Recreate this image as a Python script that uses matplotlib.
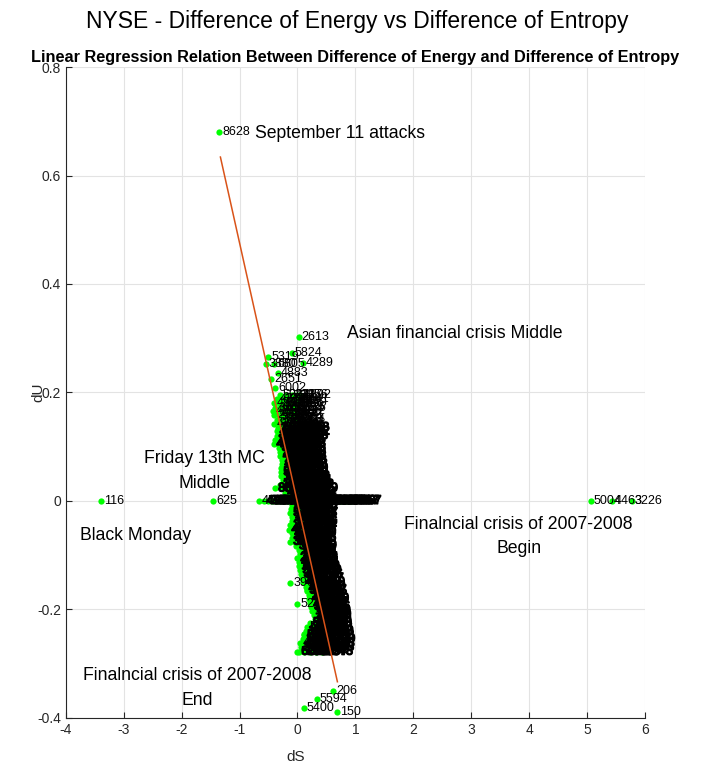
import matplotlib
matplotlib.use('Agg')
from matplotlib import pyplot as plt
from matplotlib import patheffects
from matplotlib.ticker import FuncFormatter
import numpy as np

plt.rcParams['font.family'] = ['Liberation Sans', 'DejaVu Sans']
plt.rcParams['axes.unicode_minus'] = False

# named / outlying days (dS, dU, day index)
out_dS = [-1.35, 0.02, -0.09, -0.50, -0.55, -0.40, 0.09, -0.33, -0.45, -0.38,
          -3.39, -1.45, -0.67, 5.07, 5.43, 5.78,
          -0.12, 0.16, 0.00, 0.16, 0.12, 0.05, 0.00,
          0.62, 0.33, 0.11, 0.69]
out_dU = [0.680, 0.302, 0.273, 0.266, 0.253, 0.253, 0.254, 0.236, 0.225, 0.208,
          0.0, 0.0, 0.0, 0.0, 0.0, 0.0,
          -0.151, -0.166, -0.190, -0.232, -0.245, -0.262, -0.278,
          -0.350, -0.365, -0.382, -0.390]
out_id = [8628, 2613, 5824, 5319, 3880, 6805, 4289, 4883, 2651, 6002,
          116, 625, 4592, 5004, 4463, 3226,
          3962, 4157, 5241, 5909, 3927, 4519, 5486,
          206, 5594, 5400, 150]

# dense cluster, one row per dU level: (dU, dS values, day indices)
cluster_rows = [
    (0.195, [-0.30, -0.20, -0.10, 0.00, 0.05], [5984, 2231, 4107, 3356, 1892]),
    (0.188, [-0.36, -0.27, -0.18, -0.09, 0.02], [4372, 3390, 2715, 4648, 5841]),
    (0.180, [-0.41, -0.32, -0.23, -0.14, -0.06, -0.01], [4971, 2068, 3524, 1845, 2906, 5840]),
    (0.172, [-0.38, -0.30, -0.22, -0.14, -0.07, -0.03], [3318, 4702, 1296, 5527, 2784, 4035]),
    (0.165, [-0.43, -0.35, -0.27, -0.19, -0.11, -0.04], [4016, 2549, 3671, 5103, 1438, 3962]),
    (0.158, [-0.40, -0.32, -0.24, -0.16, -0.09, -0.06], [2987, 4420, 3125, 1764, 5392, 2641]),
    (0.150, [-0.36, -0.29, -0.22, -0.15, -0.08, -0.05], [3506, 1982, 4831, 2217, 5663, 3044]),
    (0.142, [-0.40, -0.32, -0.24, -0.16, -0.09, -0.02], [4268, 3791, 1529, 2630, 4905, 3786]),
    (0.135, [-0.33, -0.26, -0.19, -0.12, -0.05, 0.02], [1673, 5218, 2406, 3957, 4143, 2893]),
    (0.128, [-0.35, -0.28, -0.21, -0.13, -0.05, 0.03], [4012, 2845, 3379, 1908, 5481, 4362]),
    (0.120, [-0.36, -0.29, -0.22, -0.15, -0.07, 0.00], [3625, 1457, 4796, 2311, 5069, 3773]),
    (0.113, [-0.38, -0.30, -0.22, -0.14, -0.07, -0.03], [2158, 3843, 4487, 1396, 3270, 5115]),
    (0.105, [-0.41, -0.33, -0.25, -0.17, -0.10, -0.04], [4659, 2094, 3518, 5731, 1826, 4053]),
    (0.098, [-0.32, -0.25, -0.18, -0.11, -0.04], [3182, 4325, 1615, 2949, 5176]),
    (0.090, [-0.30, -0.23, -0.16, -0.09, -0.04], [2503, 3736, 4864, 1287, 3409]),
    (0.083, [-0.30, -0.23, -0.16, -0.09, -0.03], [4121, 1952, 3067, 5305, 2688]),
    (0.075, [-0.27, -0.20, -0.13, -0.07, -0.03], [3453, 1734, 4590, 2362, 5018]),
    (0.068, [-0.26, -0.19, -0.12, -0.06, -0.01], [2826, 4234, 1561, 3905, 4748]),
    (0.060, [-0.28, -0.21, -0.14, -0.07, 0.00], [3841, 2197, 4683, 1379, 3519]),
    (0.053, [-0.29, -0.22, -0.15, -0.08, 0.00], [5029, 3165, 4476, 2734, 3889]),
    (0.045, [-0.29, -0.21, -0.13, -0.05, 0.03], [1953, 4317, 2680, 5209, 3472]),
    (0.038, [-0.25, -0.17, -0.09, -0.01, 0.06], [1816, 4925, 2289, 5352, 3704]),
    (0.030, [-0.30, -0.22, -0.14, -0.06, 0.02, 0.10], [1569, 4038, 2426, 4857, 3193, 1712]),
    (0.023, [-0.38, -0.27, -0.18, -0.09, 0.00, 0.09, 0.17], [8651, 5586, 2308, 3761, 4194, 1437, 4679]),
    (0.015, [-0.22, -0.14, -0.06, 0.02, 0.08, 0.14], [4629, 2875, 5123, 3384, 4571, 2064]),
    (0.008, [-0.20, -0.12, -0.04, 0.04, 0.10, 0.14], [3917, 5289, 4405, 1678, 3539, 2751]),
    (0.000, [-0.58, -0.51, -0.44, -0.37, -0.30, -0.23, -0.16, -0.09, -0.02, 0.05, 0.12, 0.19,
             0.26, 0.33, 0.40, 0.47, 0.54, 0.61, 0.68, 0.75, 0.82, 0.88, 0.92],
     [4986, 3206, 1890, 5430, 2119, 4368, 3653, 1524, 4811, 2990, 5062, 3287,
      4140, 1796, 4724, 2538, 3876, 5247, 4091, 1363, 3430, 5767, 5757]),
    (-0.008, [-0.10, -0.03, 0.04, 0.11, 0.16], [5178, 2647, 4553, 3012, 4930]),
    (-0.015, [-0.11, -0.04, 0.03, 0.10, 0.17], [1740, 3827, 2384, 4666, 1917]),
    (-0.022, [-0.12, -0.05, 0.02, 0.09, 0.17], [5314, 2203, 3566, 4043, 5397]),
    (-0.030, [-0.10, -0.03, 0.04, 0.11, 0.16], [1651, 3948, 4209, 2477, 4772]),
    (-0.038, [-0.09, -0.02, 0.05, 0.12, 0.16], [3139, 5026, 1588, 3705, 4316]),
    (-0.045, [-0.12, -0.05, 0.02, 0.09, 0.15], [2862, 5461, 4099, 1932, 3594]),
    (-0.053, [-0.15, -0.08, -0.01, 0.06, 0.14], [4887, 2291, 5142, 6048, 2745]),
    (-0.060, [-0.10, -0.03, 0.04, 0.10, 0.14], [4180, 3363, 1471, 2580, 3699]),
    (-0.068, [-0.10, -0.03, 0.04, 0.10, 0.14], [4802, 1913, 3228, 5071, 2436]),
    (-0.075, [-0.12, -0.05, 0.02, 0.08, 0.14], [3557, 4614, 1785, 2969, 4248]),
    (-0.083, [-0.02, 0.04, 0.10, 0.15], [5353, 2112, 3841, 4579]),
    (-0.090, [0.02, 0.07, 0.12, 0.16], [1626, 2757, 4890, 3301]),
    (-0.098, [0.05, 0.09, 0.13, 0.17], [5208, 1447, 3673, 4421]),
    (-0.105, [0.00, 0.06, 0.12, 0.17], [2194, 3935, 5262, 1708]),
    (-0.113, [0.02, 0.08, 0.13, 0.18], [4137, 2819, 3546, 5084]),
    (-0.120, [0.02, 0.08, 0.14, 0.20], [1872, 4463, 2603, 3789]),
    (-0.128, [0.04, 0.10, 0.16, 0.23], [5325, 1596, 4041, 2930]),
    (-0.135, [0.06, 0.12, 0.19, 0.25], [3476, 5157, 2268, 4706]),
    (-0.143, [0.08, 0.14, 0.21, 0.27], [1359, 3818, 4975, 2547]),
    (-0.150, [0.10, 0.17, 0.23, 0.29], [4283, 1664, 3099, 5440]),
    (-0.158, [0.14, 0.20, 0.25, 0.30], [2372, 4156, 3627, 1810]),
    (-0.165, [0.16, 0.22, 0.27, 0.32], [5096, 2785, 4354, 3167]),
    (-0.173, [0.20, 0.25, 0.29, 0.33], [1533, 4828, 2060, 3912]),
    (-0.180, [0.20, 0.26, 0.31, 0.36], [4575, 3241, 1986, 5270]),
    (-0.188, [0.22, 0.27, 0.32, 0.36], [2681, 3505, 4717, 1402]),
    (-0.195, [0.24, 0.29, 0.34, 0.38], [3393, 5190, 2234, 4066]),
    (-0.203, [0.26, 0.31, 0.35, 0.39], [1759, 4492, 3028, 5380]),
    (-0.210, [0.28, 0.32, 0.36, 0.40], [2920, 3664, 4239, 1580]),
    (-0.218, [0.30, 0.35, 0.40], [4147, 2638, 3740]),
    (-0.225, [0.22, 0.29, 0.35, 0.41], [5334, 1848, 4027, 3240]),
    (-0.233, [0.20, 0.27, 0.34, 0.42], [2458, 3971, 5119, 4043]),
    (-0.240, [0.14, 0.22, 0.30, 0.37, 0.44], [1693, 4386, 2804, 3562, 4299]),
    (-0.248, [0.12, 0.20, 0.28, 0.36, 0.45], [5215, 2149, 3877, 4618, 5088]),
    (-0.255, [0.10, 0.19, 0.28, 0.37, 0.47], [1925, 3312, 4756, 2573, 5299]),
    (-0.263, [0.08, 0.17, 0.26, 0.36, 0.46], [4109, 1744, 3485, 2966, 5488]),
    (-0.270, [0.06, 0.16, 0.25, 0.35, 0.45], [3655, 4851, 2087, 4960, 5148]),
    (-0.278, [0.02, 0.12, 0.22, 0.32, 0.43], [6048, 2522, 3809, 4437, 5648]),
]

# regression line dU = slope * dS + intercept
reg_slope = -0.479
reg_intercept = -0.003
reg_dS_range = [-1.33, 0.69]

# event annotations
events = [
    ('September 11 attacks', -0.74, 0.678, 'left'),
    ('Asian financial crisis Middle', 0.85, 0.308, 'left'),
    ('Friday 13th MC\nMiddle', -1.61, 0.055, 'center'),
    ('Black Monday', -3.75, -0.063, 'left'),
    ('Finalncial crisis of 2007-2008\nBegin', 3.82, -0.065, 'center'),
    ('Finalncial crisis of 2007-2008\nEnd', -1.73, -0.345, 'center'),
]

fig = plt.figure(figsize=(7.15, 7.71), dpi=100)
ax = fig.add_axes([0.092, 0.069, 0.81, 0.844])

# green markers first, all day labels over them
cl_dS = [ds for du, row, ids in cluster_rows for ds in row]
cl_dU = [du for du, row, ids in cluster_rows for ds in row]
ax.plot(out_dS + cl_dS, out_dU + cl_dU, 'o', color=(0, 1, 0), markersize=4.5,
        markeredgewidth=0, zorder=2)

for ds, du, day in zip(out_dS, out_dU, out_id):
    ax.annotate(str(day), (ds, du), xytext=(2, 0), textcoords='offset points',
                va='center', ha='left', fontsize=9, color='black', zorder=3)

# thousands of overlapping labels in the original make a solid mass,
# a thin stroke on the inner rows gives the same look
heavy = [patheffects.withStroke(linewidth=1.0, foreground='black')]
for du, row, ids in cluster_rows:
    for ds, day in zip(row, ids):
        ax.annotate(str(day), (ds, du), xytext=(2, 0), textcoords='offset points',
                    va='center', ha='left', fontsize=9, color='black', zorder=3,
                    path_effects=heavy if du <= 0.135 else None)

xs = np.array(reg_dS_range)
ax.plot(xs, reg_slope * xs + reg_intercept, color='#D95319', lw=1.1, zorder=4)

for txt, x, y, ha in events:
    ax.text(x, y, txt, ha=ha, va='center', fontsize=12.7, linespacing=1.55, zorder=5)

ax.set_xlim(-4, 6)
ax.set_ylim(-0.4, 0.8)
ax.set_xticks(np.arange(-4, 7, 1))
ax.set_yticks(np.arange(-0.4, 0.81, 0.2))
ax.yaxis.set_major_formatter(FuncFormatter(lambda v, p: '%g' % round(v, 2)))
ax.grid(True, color='#e3e3e3', lw=0.8)
ax.set_axisbelow(True)
for s in ['top', 'right']:
    ax.spines[s].set_visible(False)
for s in ['left', 'bottom']:
    ax.spines[s].set_color('#262626')
    ax.spines[s].set_linewidth(0.8)
ax.tick_params(direction='in', length=4, colors='#262626', labelsize=10)
ax.set_xlabel('dS', fontsize=11, color='#262626', va='center')
ax.xaxis.set_label_coords(0.397, -0.06)
ax.set_ylabel('dU', fontsize=11, color='#262626', va='center')
ax.yaxis.set_label_coords(-0.047, 0.5)

ax.set_title('Linear Regression Relation Between Difference of Energy and Difference of Entropy',
             fontsize=11.7, fontweight='bold', pad=4)
fig.text(0.5, 0.9715, 'NYSE - Difference of Energy vs Difference of Entropy',
         fontsize=16.5, ha='center', va='center')

fig.savefig('out.png', dpi=100)
